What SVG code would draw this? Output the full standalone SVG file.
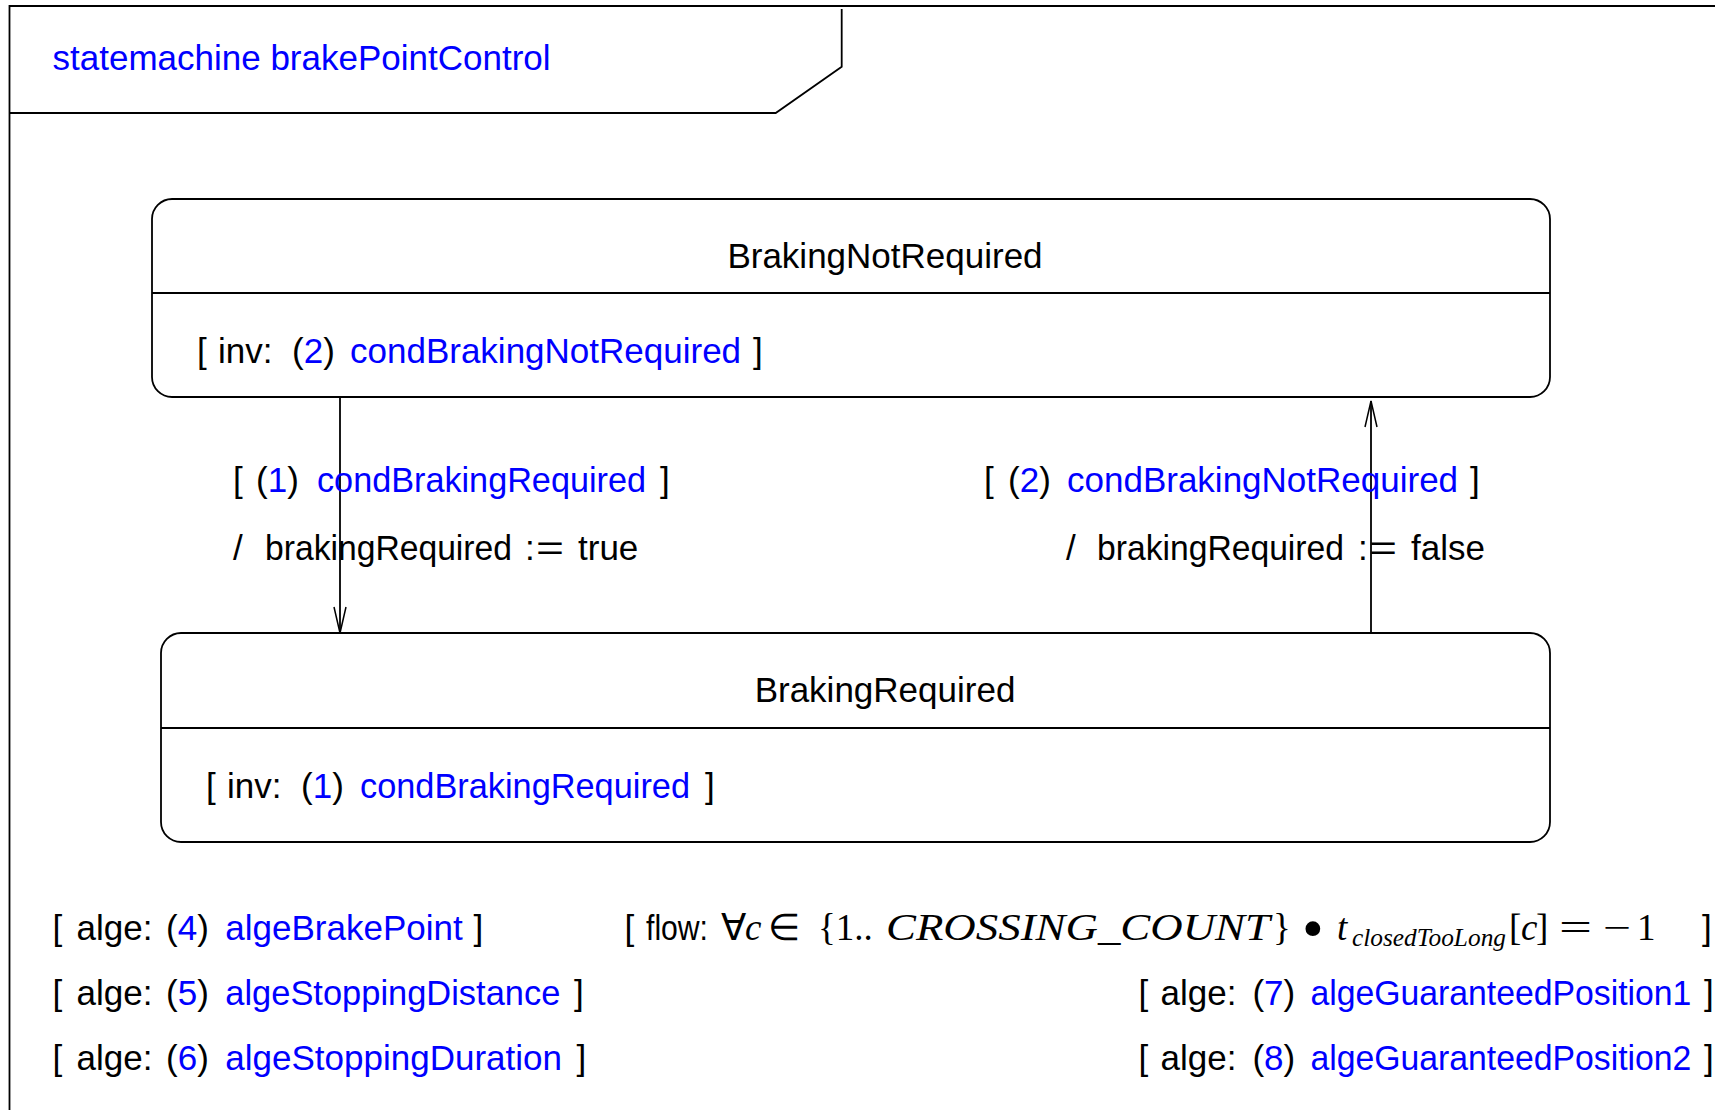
<svg xmlns="http://www.w3.org/2000/svg" width="1715" height="1110" viewBox="0 0 1715 1110">
<style>
.ln{fill:none;stroke:#000;stroke-width:1.8}
.st{fill:#fff;stroke:#000;stroke-width:1.8}
.t{font-family:"Liberation Sans",Arial,sans-serif;font-size:35px;fill:#000}
.b{fill:#0000ff}
.m{font-family:"Liberation Serif","Times New Roman",serif;font-size:37px}
.i{font-style:italic}
.s{font-size:26px}
</style>
<defs>
<marker id="arr" viewBox="0 0 28 14" refX="27" refY="7" markerWidth="28" markerHeight="14" markerUnits="userSpaceOnUse" orient="auto">
<path d="M1,1 L27,7 L1,13" fill="none" stroke="#000" stroke-width="1.5"/>
</marker>
</defs>
<rect width="1715" height="1110" fill="#fff"/>
<g id="frame">
<path class="ln" d="M9.5,1110 V6 H1715"/>
<path class="ln" d="M9.5,113 H775.7 L841.7,66.7 V9"/>
<text class="t b" x="52.5" y="70">statemachine brakePointControl</text>
</g>
<g id="BrakingNotRequired">
<rect class="st" x="152" y="199" width="1398" height="198" rx="20" ry="20"/>
<line class="ln" x1="152" y1="293" x2="1550" y2="293"/>
<text class="t" x="885" y="268" text-anchor="middle">BrakingNotRequired</text>
<text class="t" x="197" y="363">[<tspan x="218">inv:</tspan><tspan x="292">(<tspan class="b">2</tspan>)</tspan><tspan class="b" x="350">condBrakingNotRequired</tspan><tspan x="753">]</tspan></text>
</g>
<g id="BrakingRequired">
<rect class="st" x="161" y="633" width="1389" height="209" rx="20" ry="20"/>
<line class="ln" x1="161" y1="728" x2="1550" y2="728"/>
<text class="t" x="885" y="702" text-anchor="middle">BrakingRequired</text>
<text class="t" x="206" y="798">[<tspan x="227">inv:</tspan><tspan x="301">(<tspan class="b">1</tspan>)</tspan><tspan class="b" x="360" textLength="330" lengthAdjust="spacingAndGlyphs">condBrakingRequired</tspan><tspan x="705">]</tspan></text>
</g>
<g id="connectors">
<path class="ln" d="M340,397 V633" marker-end="url(#arr)"/>
<path class="ln" d="M1371,633 V401" marker-end="url(#arr)"/>
<text class="t" x="233" y="492">[<tspan x="256">(<tspan class="b">1</tspan>)</tspan><tspan class="b" x="317" textLength="329" lengthAdjust="spacingAndGlyphs">condBrakingRequired</tspan><tspan x="660">]</tspan></text>
<text class="t" x="233" y="560">/<tspan x="265" textLength="247" lengthAdjust="spacingAndGlyphs">brakingRequired</tspan><tspan x="525">:</tspan><tspan x="536" textLength="28" lengthAdjust="spacingAndGlyphs">=</tspan><tspan x="578">true</tspan></text>
<text class="t" x="984" y="492">[<tspan x="1008">(<tspan class="b">2</tspan>)</tspan><tspan class="b" x="1067">condBrakingNotRequired</tspan><tspan x="1470">]</tspan></text>
<text class="t" x="1066" y="560">/<tspan x="1097" textLength="247" lengthAdjust="spacingAndGlyphs">brakingRequired</tspan><tspan x="1358">:</tspan><tspan x="1369" textLength="28" lengthAdjust="spacingAndGlyphs">=</tspan><tspan x="1411">false</tspan></text>
</g>
<g id="annotations">
<text class="t" x="52.5" y="940">[<tspan x="76.6">alge:</tspan><tspan x="166">(<tspan class="b">4</tspan>)</tspan><tspan class="b" x="225.3">algeBrakePoint</tspan><tspan x="473.6">]</tspan></text>
<text class="t" x="52.5" y="1005">[<tspan x="76.6">alge:</tspan><tspan x="166">(<tspan class="b">5</tspan>)</tspan><tspan class="b" x="225.3" textLength="335" lengthAdjust="spacingAndGlyphs">algeStoppingDistance</tspan><tspan x="574">]</tspan></text>
<text class="t" x="52.5" y="1070">[<tspan x="76.6">alge:</tspan><tspan x="166">(<tspan class="b">6</tspan>)</tspan><tspan class="b" x="225.3">algeStoppingDuration</tspan><tspan x="576.5">]</tspan></text>
<text class="t" x="624.5" y="940">[<tspan x="646" textLength="62" lengthAdjust="spacingAndGlyphs">flow:</tspan><tspan class="m" x="721">∀</tspan><tspan class="m i" x="745">c</tspan><tspan class="m" x="768">∈</tspan><tspan class="m" x="818">{1..</tspan><tspan class="m i" x="886" textLength="384" lengthAdjust="spacingAndGlyphs">CROSSING_COUNT</tspan><tspan class="m" x="1273">}</tspan><tspan class="m" x="1302" dy="9" style="font-size:62px">•</tspan><tspan class="m i" x="1337" dy="-9">t</tspan><tspan class="m i s" x="1352" dy="6" textLength="154" lengthAdjust="spacingAndGlyphs">closedTooLong</tspan><tspan class="m" x="1509" dy="-6">[</tspan><tspan class="m i" x="1521">c</tspan><tspan class="m" x="1536">]</tspan><tspan class="m" x="1559" textLength="33" lengthAdjust="spacingAndGlyphs">=</tspan><tspan class="m" x="1603" textLength="28" lengthAdjust="spacingAndGlyphs">−</tspan><tspan class="m" x="1637">1</tspan><tspan x="1702">]</tspan></text>
<text class="t" x="1138.6" y="1005">[<tspan x="1160.5">alge:</tspan><tspan x="1252.4">(<tspan class="b">7</tspan>)</tspan><tspan class="b" x="1310.4" textLength="381" lengthAdjust="spacingAndGlyphs">algeGuaranteedPosition1</tspan><tspan x="1704">]</tspan></text>
<text class="t" x="1138.6" y="1070">[<tspan x="1160.5">alge:</tspan><tspan x="1252.4">(<tspan class="b">8</tspan>)</tspan><tspan class="b" x="1310.4" textLength="381" lengthAdjust="spacingAndGlyphs">algeGuaranteedPosition2</tspan><tspan x="1704">]</tspan></text>
</g>
</svg>
